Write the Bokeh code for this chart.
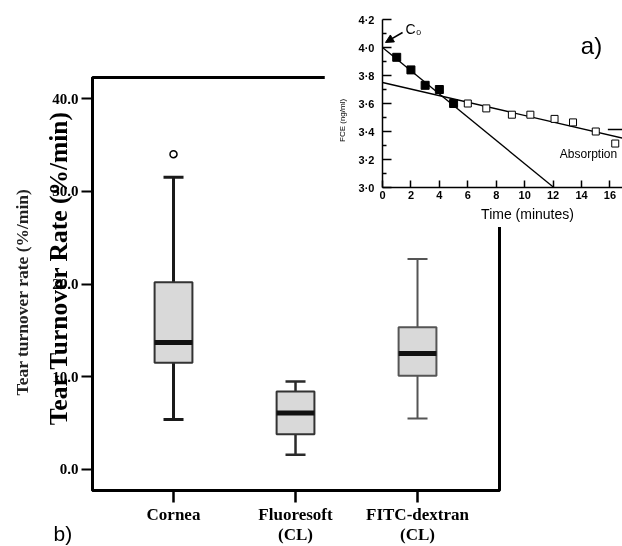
import numpy as np
from bokeh.plotting import figure
from bokeh.models import (Range1d, FixedTicker, NumeralTickFormatter, Label, Arrow,
                          NormalHead, CustomJSTickFormatter)
from bokeh.embed import file_html
from bokeh.resources import INLINE

# ---------------- main box plot (b) data ----------------
group_names = ["Cornea", "Fluoresoft\n(CL)", "FITC-dextran\n(CL)"]
group_pos = [1, 2, 3]
whisker_low = [5.4, 1.6, 5.5]
q1 = [11.5, 3.8, 10.1]
median = [13.7, 6.1, 12.5]
q3 = [20.2, 8.4, 15.35]
whisker_high = [31.5, 9.5, 22.7]
outlier_pos = [1]
outlier_val = [34.0]
y_ticks = [0, 10, 20, 30, 40]

# ---------------- inset (a) data ----------------
fast_t = [1, 2, 3, 4, 5]
fast_c = [3.93, 3.84, 3.73, 3.70, 3.60]
slow_t = [6.0, 7.3, 9.1, 10.4, 12.1, 13.4, 15.0, 16.37]
slow_c = [3.60, 3.565, 3.52, 3.52, 3.49, 3.465, 3.40, 3.314]
fit_fast_t = [0, 12.05]
fit_fast_c = [4.0, 3.0]
fit_slow_t = [0, 16.88]
fit_slow_c = [3.75, 3.353]
dash_t = [15.85, 16.88]
dash_c = [3.414, 3.414]
inset_x_ticks = [0, 2, 4, 6, 8, 10, 12, 14, 16]
inset_y_ticks = [3.0, 3.2, 3.4, 3.6, 3.8, 4.0, 4.2]
inset_y_minor = [3.1, 3.3, 3.5, 3.7, 3.9, 4.1]

SERIF = "Liberation Serif"
SANS = "Liberation Sans"

# ---------------- layout geometry (pixels) ----------------
W, H = 622, 552
INSET_LEFT, INSET_H = 324, 227
M_LEFT, M_RIGHT, M_TOP, M_BOTTOM = 92, 123, 77, 62
I_LEFT, I_TOP, I_BOTTOM = 58, 19, 40

main_x = (0.336, 3.672)
main_y = (-2.265, 42.265)
inset_x = (0, 16.88)
inset_y = (3.0, 4.2)


def fixed_at(left, top):
    return {"position": "fixed", "left": f"{left}px", "top": f"{top}px"}


# ================= main figure =================
p = figure(width=W, height=H,
           x_range=Range1d(*main_x), y_range=Range1d(*main_y),
           output_backend="svg", toolbar_location=None,
           min_border=0, min_border_left=M_LEFT, min_border_right=M_RIGHT,
           min_border_top=M_TOP, min_border_bottom=M_BOTTOM,
           styles=fixed_at(0, 0))
p.grid.visible = False
p.background_fill_color = "white"
p.border_fill_color = "white"
p.outline_line_color = "black"
p.outline_line_width = 3

ya = p.yaxis[0]
ya.ticker = FixedTicker(ticks=y_ticks, minor_ticks=[])
ya.formatter = NumeralTickFormatter(format="0.0")
ya.axis_line_width = 3
ya.major_tick_out = 11
ya.major_tick_in = 0
ya.minor_tick_out = 0
ya.minor_tick_in = 0
ya.major_tick_line_width = 2
ya.major_label_standoff = 3
ya.major_label_text_font = SERIF
ya.major_label_text_font_style = "bold"
ya.major_label_text_font_size = "15px"
ya.major_label_text_color = "black"

xa = p.xaxis[0]
xa.ticker = FixedTicker(ticks=group_pos, minor_ticks=[])
xa.major_label_overrides = {pos: name for pos, name in zip(group_pos, group_names)}
xa.axis_line_width = 3
xa.major_tick_out = 12
xa.major_tick_in = 0
xa.minor_tick_out = 0
xa.minor_tick_in = 0
xa.major_tick_line_width = 2.5
xa.major_label_standoff = 2
xa.major_label_text_font = SERIF
xa.major_label_text_font_style = "bold"
xa.major_label_text_font_size = "17px"
xa.major_label_text_color = "black"
xa.major_label_text_line_height = 1.1

box_w = 0.31
cap_w = 0.164
pos = np.array(group_pos, dtype=float)
line_cols = ["#1a1a1a", "#2a2a2a", "#555555"]
line_ws = [3, 2.5, 2]
box_line_cols = ["#333333", "#333333", "#555555"]

p.segment(x0=pos, y0=q3, x1=pos, y1=whisker_high, line_color=line_cols, line_width=line_ws)
p.segment(x0=pos, y0=q1, x1=pos, y1=whisker_low, line_color=line_cols, line_width=line_ws)
p.segment(x0=pos - cap_w / 2, y0=whisker_high, x1=pos + cap_w / 2, y1=whisker_high,
          line_color=line_cols, line_width=line_ws)
p.segment(x0=pos - cap_w / 2, y0=whisker_low, x1=pos + cap_w / 2, y1=whisker_low,
          line_color=line_cols, line_width=line_ws)
p.vbar(x=pos, width=box_w, bottom=q1, top=q3, fill_color="#d9d9d9",
       line_color=box_line_cols, line_width=2)
p.segment(x0=pos - box_w / 2, y0=median, x1=pos + box_w / 2, y1=median,
          line_color="#111111", line_width=5, line_cap="butt")
p.scatter(outlier_pos, outlier_val, marker="circle", size=7, fill_color="white",
          line_color="black", line_width=1.5)

# transparent overlay in the main plot's data coordinates, covering the whole canvas
fw = W - M_LEFT - M_RIGHT
fh = H - M_TOP - M_BOTTOM
sx = (main_x[1] - main_x[0]) / fw
sy = (main_y[1] - main_y[0]) / fh
po = figure(width=W, height=H,
            x_range=Range1d(main_x[0] - M_LEFT * sx, main_x[1] + M_RIGHT * sx),
            y_range=Range1d(main_y[0] - M_BOTTOM * sy, main_y[1] + M_TOP * sy),
            output_backend="svg", toolbar_location=None, min_border=0,
            x_axis_location=None, y_axis_location=None, styles=fixed_at(0, 0))
po.grid.visible = False
po.outline_line_color = None
po.background_fill_color = None
po.border_fill_color = None
po.add_layout(Label(x=0.057, y=21.73, text="Tear Turnover Rate (%/min)", angle=np.pi / 2,
                    text_align="center", text_baseline="middle", text_font=SERIF,
                    text_font_style="bold", text_font_size="25.5px", text_color="black"))
po.add_layout(Label(x=-0.238, y=19.14, text="Tear turnover rate (%/min)", angle=np.pi / 2,
                    text_align="center", text_baseline="middle", text_font=SERIF,
                    text_font_style="bold", text_font_size="17.5px", text_color="#222222"))
po.add_layout(Label(x=0.016, y=-6.9, text="b)", text_align="left", text_baseline="alphabetic",
                    text_font=SANS, text_font_size="21px", text_color="black"))

# ================= inset figure =================
IW = W - INSET_LEFT
q = figure(width=IW, height=INSET_H,
           x_range=Range1d(*inset_x), y_range=Range1d(*inset_y),
           output_backend="svg", toolbar_location=None,
           min_border=0, min_border_left=I_LEFT, min_border_right=0,
           min_border_top=I_TOP, min_border_bottom=I_BOTTOM,
           styles=fixed_at(INSET_LEFT, 0))
q.grid.visible = False
q.outline_line_color = None
q.background_fill_color = "white"
q.border_fill_color = "white"

qx = q.xaxis[0]
qx.ticker = FixedTicker(ticks=inset_x_ticks, minor_ticks=[])
qx.axis_line_width = 1.5
qx.major_tick_in = 7
qx.major_tick_out = 0
qx.minor_tick_in = 0
qx.minor_tick_out = 0
qx.major_tick_line_width = 1.5
qx.major_label_standoff = 3
qx.major_label_text_font = SANS
qx.major_label_text_font_style = "bold"
qx.major_label_text_font_size = "11px"
qx.major_label_text_color = "black"

qy = q.yaxis[0]
qy.ticker = FixedTicker(ticks=inset_y_ticks, minor_ticks=inset_y_minor)
qy.formatter = CustomJSTickFormatter(code="return tick.toFixed(1).replace('.', '\u00b7');")
qy.axis_line_width = 1.5
qy.major_tick_in = 9
qy.major_tick_out = 0
qy.minor_tick_in = 4
qy.minor_tick_out = 0
qy.major_tick_line_width = 1.5
qy.minor_tick_line_width = 1.5
qy.major_label_standoff = 8
qy.major_label_text_font = SANS
qy.major_label_text_font_style = "bold"
qy.major_label_text_font_size = "11px"
qy.major_label_text_color = "black"

q.line(fit_fast_t, fit_fast_c, line_color="black", line_width=1.3)
q.line(fit_slow_t, fit_slow_c, line_color="black", line_width=1.3)
q.line(dash_t, dash_c, line_color="black", line_width=1.5)
q.scatter(fast_t, fast_c, marker="square", size=8, fill_color="black", line_color="black")
q.scatter(slow_t, slow_c, marker="square", size=7, fill_color="white", line_color="black",
          line_width=1)

arrow_start = (1.41, 4.107)
arrow_end = (0.21, 4.036)
q.add_layout(Arrow(end=NormalHead(size=8, fill_color="black", line_color="black"),
                   x_start=arrow_start[0], y_start=arrow_start[1],
                   x_end=arrow_end[0], y_end=arrow_end[1],
                   line_color="black", line_width=1.5))
q.add_layout(Label(x=1.62, y=4.129, text="C\u2080", text_align="left", text_baseline="middle",
                   text_font=SANS, text_font_size="14px", text_color="black"))
q.add_layout(Label(x=14.70, y=4.014, text="a)", text_align="center", text_baseline="middle",
                   text_font=SANS, text_font_size="24px", text_color="black"))
q.add_layout(Label(x=14.49, y=3.236, text="Absorption", text_align="center",
                   text_baseline="middle", text_font=SANS, text_font_size="12px",
                   text_color="black"))

# transparent overlay in the inset's data coordinates, covering the inset's area
ifw = IW - I_LEFT
ifh = INSET_H - I_TOP - I_BOTTOM
isx = (inset_x[1] - inset_x[0]) / ifw
isy = (inset_y[1] - inset_y[0]) / ifh
qo = figure(width=IW, height=INSET_H,
            x_range=Range1d(inset_x[0] - I_LEFT * isx, inset_x[1]),
            y_range=Range1d(inset_y[0] - I_BOTTOM * isy, inset_y[1] + I_TOP * isy),
            output_backend="svg", toolbar_location=None, min_border=0,
            x_axis_location=None, y_axis_location=None, styles=fixed_at(INSET_LEFT, 0))
qo.grid.visible = False
qo.outline_line_color = None
qo.background_fill_color = None
qo.border_fill_color = None
qo.add_layout(Label(x=10.20, y=2.814, text="Time (minutes)", text_align="center",
                    text_baseline="middle", text_font=SANS, text_font_size="14px",
                    text_color="black"))
qo.add_layout(Label(x=-2.81, y=3.479, text="FCE (ng/ml)", angle=np.pi / 2, text_align="center",
                    text_baseline="middle", text_font=SANS, text_font_size="8px",
                    text_color="black"))

open("out.html", "w").write(file_html([p, po, q, qo], INLINE))
